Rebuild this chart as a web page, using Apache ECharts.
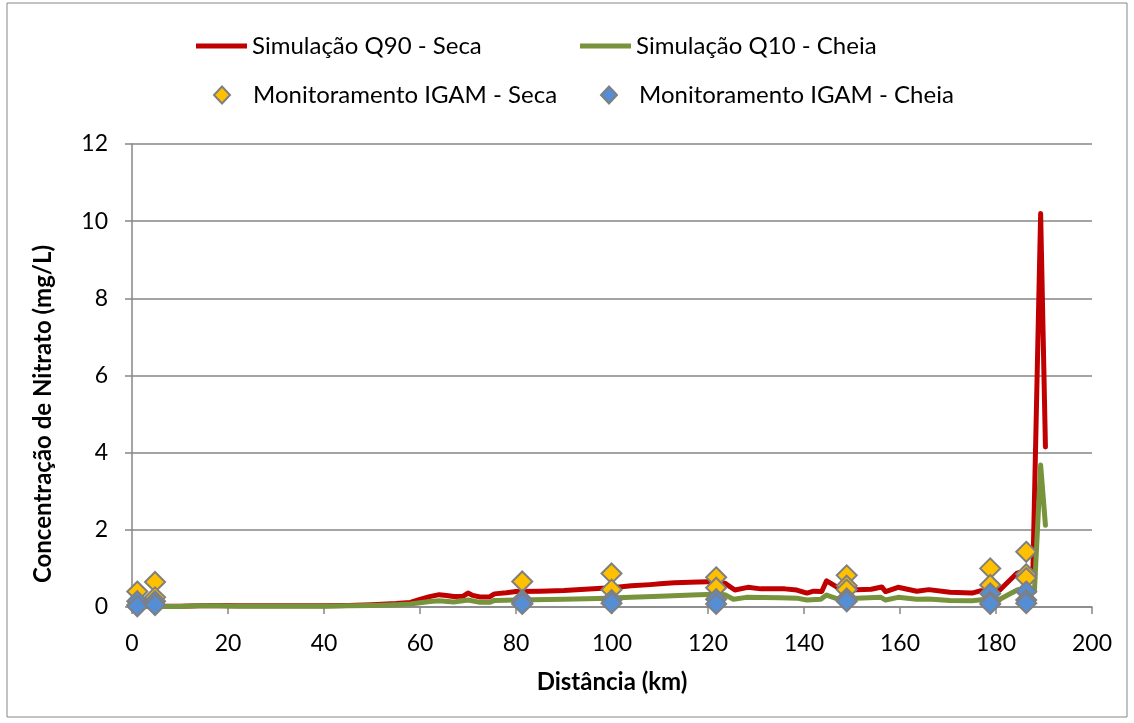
<!DOCTYPE html>
<html>
<head>
<meta charset="utf-8">
<script src="https://cdn.jsdelivr.net/npm/echarts@6/dist/echarts.min.js"></script>
<style>
  html, body { margin: 0; padding: 0; background: #fff; }
  #chart { width: 1134px; height: 723px; }
</style>
</head>
<body>
<div id="chart"></div>
<script>
// Simulated nitrate concentration along the river (km, mg/L)
const q90Km  = [0, 5, 10, 14, 18, 22, 30, 40, 45, 50, 55, 58, 60, 62, 64, 65.5, 67, 69, 70, 71, 72.5, 74.5, 75.5, 78, 80, 85, 90, 97, 100, 104, 108, 110, 113, 118, 122, 123.5, 125.6, 128.3, 131, 136, 138.5, 140.6, 142, 143.7, 144.7, 146.8, 149, 151, 154, 156.2, 157, 159.6, 163.5, 166, 170.4, 175, 176.7, 178.8, 180.8, 184.4, 186.5, 187.7, 189.3, 190.3];
const q90Val = [0.02, 0.02, 0.02, 0.03, 0.04, 0.03, 0.03, 0.03, 0.04, 0.06, 0.09, 0.12, 0.2, 0.27, 0.32, 0.3, 0.27, 0.28, 0.36, 0.3, 0.26, 0.26, 0.34, 0.37, 0.4, 0.41, 0.43, 0.48, 0.5, 0.55, 0.58, 0.6, 0.63, 0.65, 0.66, 0.62, 0.44, 0.51, 0.47, 0.47, 0.44, 0.36, 0.41, 0.4, 0.68, 0.52, 0.46, 0.45, 0.46, 0.52, 0.4, 0.51, 0.41, 0.45, 0.38, 0.36, 0.42, 0.4, 0.44, 0.88, 0.95, 1.0, 10.2, 4.15];

const q10Km  = [0, 5, 10, 14, 18, 22, 30, 40, 45, 50, 55, 58, 60, 62, 64, 67, 70, 72.5, 74.5, 75.5, 80, 90, 97, 104, 110, 118, 122, 123.5, 125.3, 128, 135, 138.5, 140.6, 143.5, 144.7, 146.8, 151, 156, 157, 159.6, 163.5, 166, 170.4, 175, 178, 180.8, 184.4, 186.5, 188, 189.3, 190.3];
const q10Val = [0.01, 0.01, 0.01, 0.03, 0.03, 0.02, 0.02, 0.02, 0.03, 0.04, 0.06, 0.08, 0.11, 0.14, 0.16, 0.13, 0.18, 0.12, 0.12, 0.17, 0.18, 0.2, 0.22, 0.25, 0.28, 0.32, 0.33, 0.32, 0.2, 0.25, 0.24, 0.23, 0.18, 0.2, 0.31, 0.22, 0.23, 0.25, 0.18, 0.25, 0.2, 0.21, 0.17, 0.16, 0.2, 0.2, 0.44, 0.5, 0.4, 3.68, 2.12];

// IGAM monitoring stations
const secaKm   = [1.1, 1.1, 4.8, 4.8, 81.3, 81.3, 99.9, 99.9, 121.7, 121.7, 148.9, 148.9, 148.9, 178.8, 178.8, 186.3, 186.3, 186.3];
const secaVal  = [0.40, 0.05, 0.65, 0.25, 0.66, 0.10, 0.87, 0.45, 0.77, 0.50, 0.82, 0.55, 0.45, 1.00, 0.57, 1.43, 0.85, 0.75];
const cheiaKm  = [1.1, 1.1, 4.8, 4.8, 81.3, 81.3, 99.9, 99.9, 121.7, 121.7, 148.9, 148.9, 178.8, 178.8, 178.8, 186.3, 186.3, 186.3];
const cheiaVal = [0.15, 0.02, 0.15, 0.05, 0.18, 0.08, 0.18, 0.10, 0.20, 0.08, 0.22, 0.15, 0.35, 0.14, 0.08, 0.40, 0.18, 0.10];

const xTicks = [0, 20, 40, 60, 80, 100, 120, 140, 160, 180, 200];
const yTicks = [0, 2, 4, 6, 8, 10, 12];

const pairs = (xs, ys) => xs.map((x, i) => [x, ys[i]]);

const FONT = 'Lato, "Liberation Sans", sans-serif';
const GRAY = '#868686';
const MARK_BORDER = '#7f7f7f';

const names = {
  q90: 'Simulação Q90 - Seca',
  q10: 'Simulação Q10 - Cheia',
  seca: 'Monitoramento IGAM - Seca',
  cheia: 'Monitoramento IGAM - Cheia'
};
const yTitle = 'Concentração de Nitrato (mg/L)';

const legendText = { fontFamily: FONT, fontSize: 24, color: '#000' };
const lineLegend = (name, left) => ({
  data: [{ name: name, icon: 'rect' }],
  left: left, top: 34, itemWidth: 51, itemHeight: 5,
  textStyle: legendText, selectedMode: false, padding: 0
});
const markLegend = (name, left, gap) => ({
  data: [{ name: name, icon: 'diamond' }],
  left: left, top: 83, itemWidth: 16, itemHeight: 17,
  textStyle: Object.assign({ padding: [0, 0, 0, gap] }, legendText),
  selectedMode: false, padding: 0
});

const chart = echarts.init(document.getElementById('chart'), null, { renderer: 'canvas' });

chart.setOption({
  backgroundColor: '#fff',
  animation: false,
  graphic: [
    {
      type: 'rect',
      shape: { x: 7, y: 3, width: 1120, height: 714 },
      style: { fill: 'none', stroke: GRAY, lineWidth: 1 },
      silent: true, z: -10
    },
    {
      // vertical axis title
      type: 'text', x: 43, y: 414, rotation: Math.PI / 2,
      style: {
        text: yTitle, fill: '#000', align: 'center', verticalAlign: 'middle',
        font: 'bold 24px ' + FONT
      },
      silent: true
    }
  ],
  legend: [
    lineLegend(names.q90, 196),
    lineLegend(names.q10, 580),
    markLegend(names.seca, 213, 18),
    markLegend(names.cheia, 600, 17)
  ],
  grid: { left: 132, right: 42, top: 144, bottom: 116 },
  xAxis: {
    type: 'value', min: xTicks[0], max: xTicks[xTicks.length - 1], interval: 20,
    name: 'Distância (km)', nameLocation: 'middle', nameGap: 63,
    nameTextStyle: { fontFamily: FONT, fontSize: 24, fontWeight: 'bold', color: '#000' },
    axisLine: { lineStyle: { color: GRAY, width: 1.5 } },
    axisTick: { show: true, inside: false, length: 7, lineStyle: { color: GRAY, width: 1.5 } },
    axisLabel: { fontFamily: FONT, fontSize: 23, color: '#000', margin: 25 },
    splitLine: { show: false }
  },
  yAxis: {
    type: 'value', min: yTicks[0], max: yTicks[yTicks.length - 1], interval: 2,
    axisLine: { show: true, lineStyle: { color: GRAY, width: 1.5 } },
    axisTick: { show: true, inside: false, length: 7, lineStyle: { color: GRAY, width: 1.5 } },
    axisLabel: { fontFamily: FONT, fontSize: 23, color: '#000', margin: 24 },
    splitLine: { show: true, lineStyle: { color: GRAY, width: 1.5 } }
  },
  series: [
    {
      name: names.q90, type: 'line', data: pairs(q90Km, q90Val),
      showSymbol: false, symbol: 'none',
      itemStyle: { color: '#C00000' },
      lineStyle: { color: '#C00000', width: 5, join: 'round', cap: 'round' },
      z: 2
    },
    {
      name: names.q10, type: 'line', data: pairs(q10Km, q10Val),
      showSymbol: false, symbol: 'none',
      itemStyle: { color: '#77933C' },
      lineStyle: { color: '#77933C', width: 5, join: 'round', cap: 'round' },
      z: 3
    },
    {
      name: names.seca, type: 'scatter', data: pairs(secaKm, secaVal),
      symbol: 'diamond', symbolSize: 20,
      itemStyle: { color: '#FFC000', borderColor: MARK_BORDER, borderWidth: 2, opacity: 1 },
      z: 4
    },
    {
      name: names.cheia, type: 'scatter', data: pairs(cheiaKm, cheiaVal),
      symbol: 'diamond', symbolSize: 20,
      itemStyle: { color: '#558ED5', borderColor: MARK_BORDER, borderWidth: 2, opacity: 1 },
      z: 5
    }
  ]
});
</script>
</body>
</html>
